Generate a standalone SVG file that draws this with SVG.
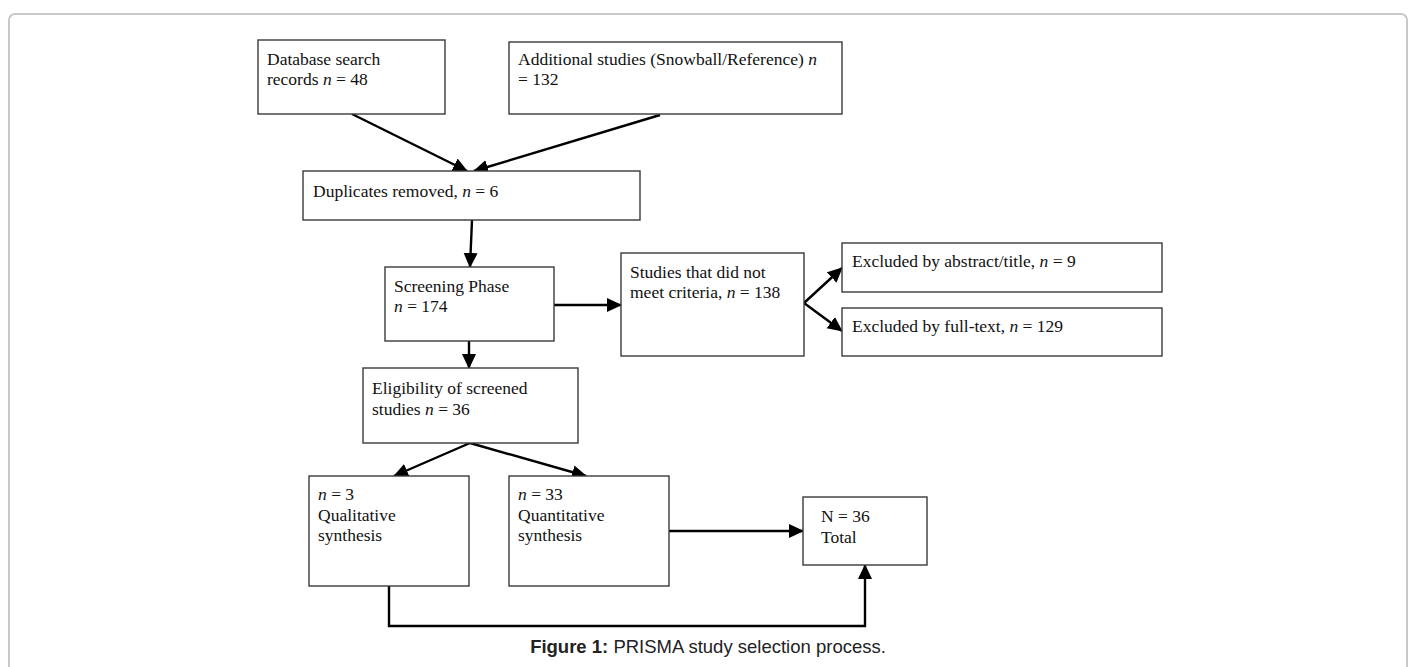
<svg xmlns="http://www.w3.org/2000/svg" width="1413" height="667" viewBox="0 0 1413 667">
<style>
.box{fill:#ffffff;stroke:#3a3a3a;stroke-width:1.4}
.t{font-family:"Liberation Serif","Times New Roman",serif;font-size:17.5px;fill:#111}
.i{font-style:italic}
.c{fill:none;stroke:#000;stroke-width:2.4}
.cap{font-family:"Liberation Sans",Arial,sans-serif;font-size:18.5px;fill:#222}
</style>
<defs>
<marker id="ah" markerUnits="userSpaceOnUse" markerWidth="16" markerHeight="16" refX="14" refY="7.5" orient="auto">
<path d="M0,0.5 L15,7.5 L0,14.5 z" fill="#000"/>
</marker>
</defs>
<rect x="0" y="0" width="1413" height="667" fill="#ffffff"/>
<rect id="frame" x="9" y="14" width="1398" height="680" rx="6" ry="6" fill="#ffffff" stroke="#c8c8c8" stroke-width="2"/>

<g id="connectors">
<line class="c" x1="352" y1="114" x2="467" y2="171" marker-end="url(#ah)"/>
<line class="c" x1="660" y1="115" x2="474" y2="171" marker-end="url(#ah)"/>
<line class="c" x1="472" y1="220" x2="470" y2="267" marker-end="url(#ah)"/>
<line class="c" x1="554" y1="305" x2="621" y2="305" marker-end="url(#ah)"/>
<line class="c" x1="469" y1="341" x2="469" y2="368" marker-end="url(#ah)"/>
<line class="c" x1="804" y1="303" x2="842" y2="268" marker-end="url(#ah)"/>
<line class="c" x1="804" y1="303" x2="842" y2="331" marker-end="url(#ah)"/>
<line class="c" x1="470" y1="443" x2="394" y2="476" marker-end="url(#ah)"/>
<line class="c" x1="470" y1="443" x2="586" y2="476" marker-end="url(#ah)"/>
<line class="c" x1="669" y1="531" x2="803" y2="531" marker-end="url(#ah)"/>
<polyline class="c" points="389,586 389,626 865,626 865,565" marker-end="url(#ah)"/>
</g>

<g id="database">
<rect class="box" x="258" y="40" width="187" height="74"/>
<text class="t" x="267" y="65">Database search</text>
<text class="t" x="267" y="85">records <tspan class="i">n</tspan> = 48</text>
</g>

<g id="additional">
<rect class="box" x="509" y="42" width="333" height="72"/>
<text class="t" x="518" y="65">Additional studies (Snowball/Reference) <tspan class="i">n</tspan></text>
<text class="t" x="518" y="85">= 132</text>
</g>

<g id="duplicates">
<rect class="box" x="303" y="171" width="337" height="49"/>
<text class="t" x="313" y="197">Duplicates removed, <tspan class="i">n</tspan> = 6</text>
</g>

<g id="screening">
<rect class="box" x="385" y="267" width="169" height="74"/>
<text class="t" x="394" y="292">Screening Phase</text>
<text class="t" x="394" y="312"><tspan class="i">n</tspan> = 174</text>
</g>

<g id="notmet">
<rect class="box" x="621" y="253" width="183" height="103"/>
<text class="t" x="630" y="278">Studies that did not</text>
<text class="t" x="630" y="298">meet criteria, <tspan class="i">n</tspan> = 138</text>
</g>

<g id="excl-abstract">
<rect class="box" x="842" y="243" width="320" height="49"/>
<text class="t" x="852" y="267">Excluded by abstract/title, <tspan class="i">n</tspan> = 9</text>
</g>

<g id="excl-fulltext">
<rect class="box" x="842" y="308" width="320" height="48"/>
<text class="t" x="852" y="332">Excluded by full-text, <tspan class="i">n</tspan> = 129</text>
</g>

<g id="eligibility">
<rect class="box" x="363" y="368" width="215" height="75"/>
<text class="t" x="372" y="394">Eligibility of screened</text>
<text class="t" x="372" y="415">studies <tspan class="i">n</tspan> = 36</text>
</g>

<g id="qualitative">
<rect class="box" x="309" y="476" width="160" height="110"/>
<text class="t" x="318" y="500"><tspan class="i">n</tspan> = 3</text>
<text class="t" x="318" y="521">Qualitative</text>
<text class="t" x="318" y="541">synthesis</text>
</g>

<g id="quantitative">
<rect class="box" x="509" y="476" width="160" height="110"/>
<text class="t" x="518" y="500"><tspan class="i">n</tspan> = 33</text>
<text class="t" x="518" y="521">Quantitative</text>
<text class="t" x="518" y="541">synthesis</text>
</g>

<g id="total">
<rect class="box" x="803" y="497" width="124" height="68"/>
<text class="t" x="821" y="522">N = 36</text>
<text class="t" x="821" y="543">Total</text>
</g>

<g id="caption">
<text class="cap" x="708" y="653" text-anchor="middle"><tspan font-weight="bold">Figure 1:</tspan> PRISMA study selection process.</text>
</g>
</svg>
